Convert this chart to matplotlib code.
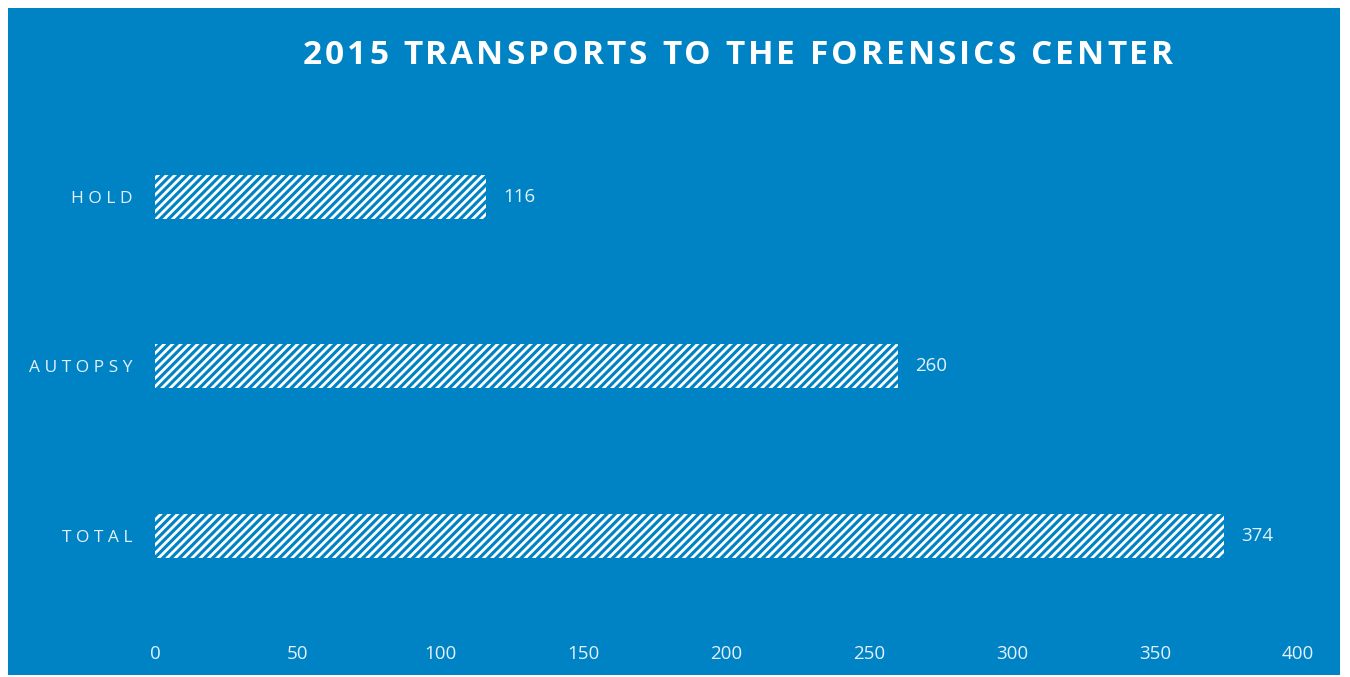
#!/usr/bin/env python3

import matplotlib.pyplot as plt
from matplotlib.patches import Rectangle
from matplotlib.font_manager import FontProperties

categories = ["TOTAL", "AUTOPSY", "HOLD"]
transports = [374, 260, 116]
x_ticks = [0, 50, 100, 150, 200, 250, 300, 350, 400]
title = "2015 TRANSPORTS TO THE FORENSICS CENTER"

BLUE = "#0083C4"
TEXT = "#E3F1FA"


def spaced(s):
    return " ".join(s)


def letterspaced_title(fig, s, x0_px, x1_px, y_px, fp):
    """ Draw text spread out between two pixel positions """
    renderer = fig.canvas.get_renderer()
    widths = [renderer.get_text_width_height_descent(c, fp, ismath=False)[0]
              for c in s]
    gap = (x1_px - x0_px - sum(widths)) / (len(s) - 1)
    x = x0_px
    W, H = fig.bbox.width, fig.bbox.height
    for c, w in zip(s, widths):
        fig.text(x / W, 1 - y_px / H, c, fontproperties=fp, color="white",
                 ha="left", va="center")
        x += w + gap


def plot_transports(output_fn):
    plt.rcParams['font.family'] = ['Open Sans', 'DejaVu Sans']
    plt.rcParams['hatch.linewidth'] = 2.0

    fig = plt.figure(figsize=(13.5, 6.77), dpi=100, facecolor="white")
    fig.patches.append(Rectangle((8 / 1350, 2 / 677), 1332 / 1350, 667 / 677,
                                 transform=fig.transFigure, facecolor=BLUE,
                                 edgecolor="none", zorder=-10))

    ax = fig.add_axes([0.1148, 0.058, 0.8467, 0.802])
    ax.set_zorder(5)
    ax.set_facecolor("none")
    ypos = list(range(len(categories)))
    ax.barh(ypos, transports, height=0.26, color=BLUE,
            edgecolor="white", linewidth=0, hatch="////")

    for y, v in zip(ypos, transports):
        ax.text(v + 6, y, str(v), color=TEXT, fontsize=13.5,
                va="center", ha="left")

    ax.set_xlim(0, 400)
    ax.set_ylim(-0.6, 2.6)
    ax.set_xticks(x_ticks)
    ax.set_xticklabels([str(t) for t in x_ticks], color=TEXT, fontsize=13.5)
    ax.set_yticks(ypos)
    ax.set_yticklabels([spaced(c) for c in categories], color=TEXT,
                       fontsize=12.5)
    ax.tick_params(axis="both", length=0)
    ax.tick_params(axis="x", pad=5)
    ax.tick_params(axis="y", pad=16)
    for sp in ax.spines.values():
        sp.set_visible(False)

    fp = FontProperties(family=['Open Sans', 'DejaVu Sans'], size=24,
                        weight='bold')
    letterspaced_title(fig, title, 303, 1173, 55, fp)

    plt.savefig(output_fn, dpi=100, facecolor=fig.get_facecolor())


if __name__ == "__main__":
    plot_transports("out.png")
